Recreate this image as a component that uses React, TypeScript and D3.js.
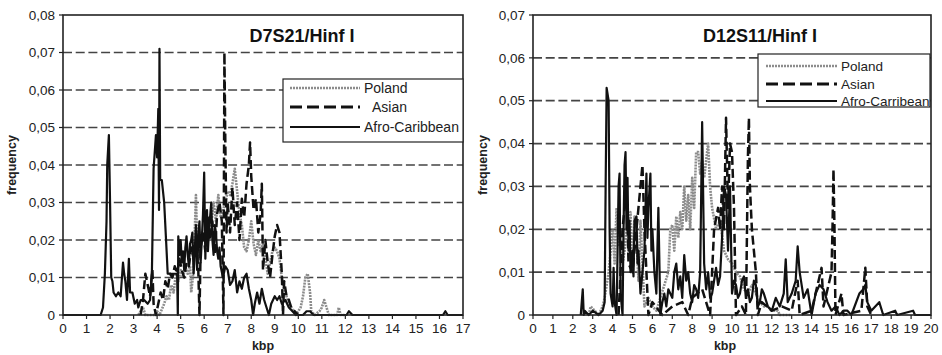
import React from "react";
import * as d3 from "d3";

type Pt = [number, number];

// ---------- D7S21 / Hinf I (left) ----------
const leftPoland: Pt[] = [
  [3.2, 0], [3.3, 0.001], [3.4, 0.002], [3.5, 0], [3.9, 0], [4.0, 0.001], [4.1, 0], [4.3, 0.003], [4.4, 0.005],
  [4.5, 0.004], [4.6, 0.008], [4.7, 0.006], [4.8, 0.011], [4.9, 0.009], [5.0, 0.012], [5.1, 0.01], [5.2, 0.013],
  [5.3, 0.011], [5.4, 0.013], [5.45, 0.006], [5.55, 0.012], [5.65, 0.032], [5.7, 0.02], [5.8, 0.015], [5.9, 0.022],
  [6.0, 0.02], [6.1, 0.027], [6.2, 0.02], [6.3, 0.024], [6.4, 0.03], [6.5, 0.025], [6.6, 0.032], [6.7, 0.026],
  [6.8, 0.028], [6.9, 0.03], [7.0, 0.033], [7.1, 0.032], [7.2, 0.035], [7.3, 0.039], [7.4, 0.033], [7.5, 0.027],
  [7.6, 0.024], [7.7, 0.018], [7.8, 0.017], [7.9, 0.02], [8.0, 0.025], [8.1, 0.019], [8.2, 0.016], [8.3, 0.02],
  [8.4, 0.017], [8.5, 0.019], [8.6, 0.015], [8.7, 0.011], [8.8, 0.014], [8.9, 0.017], [9.0, 0.018], [9.1, 0.017],
  [9.2, 0.015], [9.3, 0.01], [9.4, 0.007], [9.5, 0.005], [9.6, 0.003], [9.7, 0.002], [9.8, 0.001], [9.9, 0],
  [10.1, 0.002], [10.2, 0.005], [10.3, 0.01], [10.4, 0.011], [10.5, 0.006], [10.55, 0.001], [10.7, 0], [10.9, 0.001],
  [11.0, 0.002], [11.1, 0.004], [11.2, 0.002], [11.3, 0], [11.65, 0], [11.72, 0.002], [11.8, 0], [12, 0],
];

const leftAsian: Pt[] = [
  [3.3, 0], [3.4, 0.004], [3.5, 0.011], [3.6, 0.008], [3.7, 0.005], [3.8, 0.012], [3.85, 0.003], [3.95, 0],
  [4.05, 0.003], [4.15, 0.006], [4.25, 0.004], [4.35, 0.009], [4.45, 0.007], [4.55, 0.011], [4.65, 0.01],
  [4.75, 0.013], [4.85, 0.011], [4.95, 0.015], [5.05, 0.012], [5.15, 0.01], [5.25, 0.014], [5.35, 0.013],
  [5.45, 0.018], [5.55, 0.015], [5.65, 0.02], [5.75, 0.012], [5.8, 0], [5.85, 0.018], [5.95, 0.022], [6.05, 0.017],
  [6.15, 0.026], [6.25, 0.02], [6.35, 0.025], [6.45, 0.016], [6.55, 0.027], [6.65, 0.03], [6.75, 0.025],
  [6.82, 0], [6.86, 0.07], [6.9, 0.045], [6.95, 0.022], [7.0, 0.03], [7.1, 0.022], [7.2, 0.034], [7.3, 0.024],
  [7.4, 0.03], [7.5, 0.02], [7.6, 0.031], [7.7, 0.026], [7.8, 0.035], [7.9, 0.04], [7.95, 0.046], [8.0, 0.037],
  [8.1, 0.028], [8.2, 0.031], [8.3, 0.022], [8.4, 0.027], [8.45, 0.035], [8.5, 0.012], [8.6, 0.02], [8.7, 0.014],
  [8.8, 0.01], [8.9, 0.016], [9.0, 0.021], [9.1, 0.024], [9.2, 0.022], [9.3, 0.011], [9.35, 0], [9.4, 0.009],
  [9.5, 0.005], [9.6, 0.004], [9.7, 0.002], [9.85, 0.001], [10.0, 0],
];

const leftAfro: Pt[] = [
  [0, 0], [1.6, 0], [1.7, 0.002], [1.78, 0.011], [1.85, 0.025], [1.88, 0.04], [1.95, 0.048], [2.0, 0.03],
  [2.05, 0.01], [2.1, 0.009], [2.15, 0.006], [2.25, 0.005], [2.35, 0.006], [2.45, 0.005], [2.55, 0.014],
  [2.6, 0.011], [2.65, 0.009], [2.72, 0.004], [2.8, 0.015], [2.85, 0.006], [2.95, 0.006], [3.05, 0.003],
  [3.15, 0.004], [3.2, 0.002], [3.3, 0.004], [3.45, 0.004], [3.6, 0.003], [3.7, 0.004], [3.78, 0.012],
  [3.85, 0.039], [3.95, 0.048], [4.0, 0.042], [4.05, 0.055], [4.08, 0.028], [4.1, 0.071], [4.13, 0.036],
  [4.2, 0.036], [4.3, 0.03], [4.38, 0.02], [4.45, 0.011], [4.5, 0.011], [4.7, 0.011], [4.85, 0.011], [4.88, 0],
  [4.9, 0.021], [4.95, 0.016], [5.0, 0.02], [5.05, 0.014], [5.1, 0.017], [5.15, 0.012], [5.2, 0.018],
  [5.25, 0.021], [5.3, 0.016], [5.35, 0.013], [5.4, 0.019], [5.45, 0.02], [5.5, 0.022], [5.55, 0.011],
  [5.58, 0.014], [5.62, 0.02], [5.65, 0.024], [5.7, 0.012], [5.72, 0.015], [5.76, 0.022], [5.8, 0.025],
  [5.85, 0.014], [5.9, 0.02], [5.95, 0.027], [6.0, 0.038], [6.05, 0.015], [6.08, 0.024], [6.12, 0.028],
  [6.16, 0.017], [6.2, 0.022], [6.25, 0.026], [6.3, 0.03], [6.35, 0.02], [6.4, 0.016], [6.45, 0.024],
  [6.5, 0.022], [6.55, 0.017], [6.6, 0.015], [6.65, 0.018], [6.7, 0.013], [6.8, 0.01], [6.9, 0.013],
  [7.0, 0.012], [7.1, 0.008], [7.2, 0.009], [7.3, 0.012], [7.4, 0.006], [7.5, 0.009], [7.6, 0.007], [7.7, 0.01],
  [7.8, 0.011], [7.9, 0.007], [8.0, 0.004], [8.08, 0], [8.15, 0.003], [8.25, 0.006], [8.35, 0.003],
  [8.45, 0.007], [8.55, 0.004], [8.65, 0.002], [8.75, 0], [8.85, 0.003], [9.0, 0.005], [9.1, 0.004],
  [9.2, 0.005], [9.3, 0.003], [9.45, 0.004], [9.6, 0.002], [9.75, 0.001], [9.9, 0], [10.2, 0], [10.35, 0.001],
  [10.5, 0.001], [10.65, 0], [12.05, 0], [12.15, 0.001], [12.3, 0], [16.15, 0], [16.25, 0.001], [16.35, 0],
  [17, 0],
];

// ---------- D12S11 / Hinf I (right) ----------
const rightPoland: Pt[] = [
  [2.8, 0], [2.9, 0.002], [3.1, 0.001], [3.3, 0], [3.5, 0.002], [3.6, 0.004], [3.8, 0.01], [4.0, 0.02],
  [4.1, 0.012], [4.2, 0.025], [4.3, 0.016], [4.4, 0.02], [4.5, 0.012], [4.6, 0.015], [4.7, 0.02], [4.8, 0.022],
  [4.9, 0.024], [5.0, 0.01], [5.1, 0.023], [5.2, 0.018], [5.3, 0.008], [5.4, 0.022], [5.5, 0.012], [5.6, 0.002],
  [5.8, 0.004], [6.0, 0.002], [6.2, 0.001], [6.4, 0.004], [6.6, 0.007], [6.8, 0.01], [6.9, 0.02], [7.0, 0.021],
  [7.1, 0.015], [7.2, 0.023], [7.3, 0.018], [7.4, 0.024], [7.5, 0.02], [7.6, 0.03], [7.7, 0.022], [7.8, 0.028],
  [7.9, 0.02], [8.0, 0.032], [8.1, 0.025], [8.2, 0.038], [8.3, 0.038], [8.4, 0.033], [8.5, 0.036], [8.6, 0.032],
  [8.8, 0.04], [8.9, 0.03], [9.0, 0.025], [9.2, 0.02], [9.4, 0.022], [9.6, 0.015], [9.8, 0.013], [10.0, 0.012],
  [10.2, 0.01], [10.4, 0.009], [10.6, 0.006], [10.8, 0.005], [11.0, 0.007], [11.2, 0.005], [11.4, 0.003],
  [11.6, 0.002], [11.8, 0.002], [12.0, 0.001], [12.3, 0.001], [12.4, 0], [13, 0],
];

const rightAsian: Pt[] = [
  [4.3, 0], [4.5, 0.02], [4.7, 0.03], [4.8, 0.012], [5.0, 0.01], [5.2, 0.02], [5.4, 0.03], [5.5, 0.035],
  [5.6, 0.02], [5.7, 0.01], [5.8, 0], [6.0, 0.003], [6.5, 0], [7.0, 0.002], [7.5, 0.003], [7.8, 0], [8.0, 0.004],
  [8.5, 0.006], [8.9, 0], [9.1, 0.02], [9.3, 0.025], [9.4, 0.02], [9.5, 0.03], [9.6, 0.02], [9.7, 0.046],
  [9.8, 0.025], [9.9, 0.04], [10.0, 0.038], [10.1, 0.025], [10.2, 0], [10.5, 0.002], [10.7, 0], [10.8, 0.037],
  [10.85, 0.046], [10.9, 0.03], [11.0, 0.02], [11.1, 0.015], [11.2, 0.01], [11.3, 0], [11.5, 0.003], [12.0, 0.001],
  [12.5, 0.002], [13.0, 0.001], [13.3, 0.008], [13.4, 0], [14.0, 0.001], [14.5, 0.011], [14.6, 0.002],
  [15.0, 0.01], [15.05, 0.02], [15.1, 0.034], [15.15, 0.02], [15.2, 0], [15.5, 0.005], [15.6, 0], [16.5, 0.001],
  [16.7, 0.011], [16.8, 0.002], [17, 0],
];

const rightAfro: Pt[] = [
  [2.4, 0], [2.45, 0.003], [2.5, 0.006], [2.55, 0], [2.6, 0.001], [2.8, 0], [3.0, 0.001], [3.3, 0], [3.5, 0.001],
  [3.6, 0.003], [3.65, 0.03], [3.7, 0.053], [3.8, 0.05], [3.85, 0.02], [3.9, 0.005], [4.0, 0.002], [4.05, 0.011],
  [4.1, 0.003], [4.2, 0], [4.3, 0.03], [4.35, 0.033], [4.4, 0.005], [4.5, 0], [4.55, 0.02], [4.6, 0.035],
  [4.65, 0.038], [4.7, 0.02], [4.75, 0.032], [4.8, 0.015], [4.85, 0.022], [4.9, 0.01], [5.0, 0.015],
  [5.05, 0.009], [5.1, 0.022], [5.2, 0.023], [5.25, 0.012], [5.3, 0.015], [5.4, 0.005], [5.5, 0.01],
  [5.6, 0.015], [5.7, 0.033], [5.75, 0.018], [5.8, 0.025], [5.9, 0.033], [5.95, 0.015], [6.0, 0.02],
  [6.1, 0.01], [6.2, 0.005], [6.3, 0.025], [6.4, 0], [6.5, 0.003], [6.6, 0.005], [6.7, 0.002], [6.8, 0.006],
  [7.0, 0.004], [7.1, 0.01], [7.2, 0.012], [7.3, 0.006], [7.4, 0.009], [7.5, 0.004], [7.6, 0.014], [7.7, 0.008],
  [7.8, 0.01], [7.9, 0.005], [8.0, 0.003], [8.1, 0.007], [8.2, 0.006], [8.3, 0.004], [8.4, 0.01], [8.5, 0.045],
  [8.6, 0.012], [8.7, 0.006], [8.8, 0.01], [8.9, 0.004], [9.0, 0.005], [9.1, 0.008], [9.2, 0.011], [9.3, 0.007],
  [9.4, 0.009], [9.5, 0.018], [9.6, 0.03], [9.7, 0.028], [9.8, 0.015], [9.9, 0.03], [10.0, 0.005],
  [10.1, 0.008], [10.2, 0.007], [10.3, 0.004], [10.4, 0.005], [10.5, 0.008], [10.6, 0.009], [10.7, 0.004],
  [10.8, 0.006], [10.9, 0.003], [11.0, 0.004], [11.1, 0.008], [11.2, 0.007], [11.3, 0.002], [11.4, 0.003],
  [11.5, 0.006], [11.6, 0.005], [11.8, 0.002], [12.0, 0.001], [12.2, 0.004], [12.4, 0.002], [12.6, 0.005],
  [12.7, 0.013], [12.8, 0.003], [13.0, 0.005], [13.2, 0.008], [13.3, 0.016], [13.4, 0.01], [13.6, 0.004],
  [13.8, 0.006], [14.0, 0], [14.2, 0.005], [14.4, 0.007], [14.6, 0.006], [14.8, 0.003], [15.0, 0.001],
  [15.2, 0.002], [15.4, 0], [15.6, 0.001], [15.8, 0.001], [16.0, 0], [16.4, 0.005], [16.6, 0.006],
  [16.7, 0.007], [16.8, 0.003], [17.0, 0.001], [17.4, 0.003], [17.6, 0], [18.2, 0.001], [18.3, 0],
  [19.1, 0.001], [19.2, 0], [20, 0],
];

const leftYTicks = [0, 0.01, 0.02, 0.03, 0.04, 0.05, 0.06, 0.07, 0.08];
const rightYTicks = [0, 0.01, 0.02, 0.03, 0.04, 0.05, 0.06, 0.07];
const leftXTicks = d3.range(0, 18);
const rightXTicks = d3.range(0, 21);
const leftLegend = ["Poland", "Asian", "Afro-Caribbean"];
const rightLegend = ["Poland", "Asian", "Afro-Carribean"];

const FONT = "'Liberation Sans', Arial, sans-serif";

const styles = [
  { stroke: "#8c8c8c", width: 2.6, dash: "2,1" },
  { stroke: "#111", width: 2.5, dash: "9,4" },
  { stroke: "#111", width: 2.2, dash: "none" },
];

const fmtY = (v: number) => (v === 0 ? "0" : d3.format(".2f")(v).replace(".", ","));

function Panel(props: {
  left: number; right: number; top: number; bottom: number;
  xMax: number; yMax: number; xTicks: number[]; yTicks: number[];
  series: Pt[][]; title: string; titleX: number;
  legend: string[]; legendBox: { x: number; y: number; w: number; h: number; rows: number[]; textX: number[]; lineX: [number, number]; fs: number };
  yLabelX: number; xLabelX: number;
}) {
  const { left, right, top, bottom } = props;
  const x = d3.scaleLinear().domain([0, props.xMax]).range([left, right]);
  const y = d3.scaleLinear().domain([0, props.yMax]).range([bottom, top]);
  const line = d3.line<Pt>().x(d => x(d[0])).y(d => y(d[1]));
  const lb = props.legendBox;

  return (
    <g>
      {/* grid */}
      {props.yTicks.filter(t => t > 0 && t < props.yMax).map(t => (
        <line key={t} x1={left} x2={right} y1={y(t)} y2={y(t)} stroke="#444" strokeWidth={1.7} strokeDasharray="9,3.7" />
      ))}

      {/* series */}
      {props.series.map((s, i) => (
        <path key={i} d={line(s) || ""} fill="none" stroke={styles[i].stroke} strokeWidth={styles[i].width}
          strokeDasharray={styles[i].dash} strokeLinejoin="round" />
      ))}

      {/* frame */}
      <rect x={left} y={top} width={right - left} height={bottom - top} fill="none" stroke="#222" strokeWidth={1.6} />

      {/* y axis */}
      {props.yTicks.map(t => (
        <g key={t}>
          <line x1={left - 4} x2={left} y1={y(t)} y2={y(t)} stroke="#222" strokeWidth={1.2} />
          <text x={left - 8} y={y(t)} dy="0.35em" textAnchor="end" fontSize={13.5} fill="#222" fontFamily={FONT}>{fmtY(t)}</text>
        </g>
      ))}

      {/* x axis */}
      {props.xTicks.map(t => (
        <g key={t}>
          <line x1={x(t)} x2={x(t)} y1={bottom} y2={bottom + 4} stroke="#222" strokeWidth={1.2} />
          <text x={x(t)} y={bottom + 18} textAnchor="middle" fontSize={13.5} fill="#222" fontFamily={FONT}>{t}</text>
        </g>
      ))}

      <text x={props.xLabelX} y={bottom + 35} textAnchor="middle" fontSize={12.5} fontWeight="bold" fill="#222" fontFamily={FONT}>kbp</text>
      <text transform={`translate(${props.yLabelX},${(top + bottom) / 2}) rotate(-90)`} textAnchor="middle" dy="0.35em"
        fontSize={12.5} fontWeight="bold" fill="#222" fontFamily={FONT}>frequency</text>

      <text x={props.titleX} y={42} textAnchor="middle" fontSize={18} fontWeight="bold" fill="#111" fontFamily={FONT}>{props.title}</text>

      {/* legend */}
      <rect x={lb.x} y={lb.y} width={lb.w} height={lb.h} fill="#fff" stroke="#222" strokeWidth={1.2} />
      {props.legend.map((name, i) => (
        <g key={name}>
          <line x1={lb.lineX[0]} x2={lb.lineX[1]} y1={lb.rows[i]} y2={lb.rows[i]} stroke={styles[i].stroke}
            strokeWidth={i === 1 ? 2.8 : styles[i].width} strokeDasharray={i === 1 ? "12,5" : styles[i].dash} />
          <text x={lb.textX[i]} y={lb.rows[i]} dy="0.35em" fontSize={lb.fs} fill="#222" fontFamily={FONT}>{name}</text>
        </g>
      ))}
    </g>
  );
}

export default function App() {
  return (
    <div style={{ position: "fixed", left: 0, top: 0 }}>
      <svg width={942} height={355} style={{ display: "block", background: "#fff" }}>
        <Panel left={63} right={463} top={15} bottom={315} xMax={17} yMax={0.08}
          xTicks={leftXTicks} yTicks={leftYTicks} series={[leftPoland, leftAsian, leftAfro]}
          title="D7S21/Hinf I" titleX={302} legend={leftLegend}
          legendBox={{ x: 283, y: 79, w: 180, h: 63, rows: [88, 107, 127], textX: [364, 372, 364], lineX: [290, 360], fs: 14 }}
          yLabelX={12} xLabelX={263} />
        <Panel left={533} right={931} top={15} bottom={315} xMax={20} yMax={0.07}
          xTicks={rightXTicks} yTicks={rightYTicks} series={[rightPoland, rightAsian, rightAfro]}
          title="D12S11/Hinf I" titleX={760} legend={rightLegend}
          legendBox={{ x: 758, y: 54, w: 172, h: 53, rows: [66, 84, 101], textX: [841, 841, 841], lineX: [766, 837], fs: 13.5 }}
          yLabelX={483} xLabelX={725} />
      </svg>
    </div>
  );
}
